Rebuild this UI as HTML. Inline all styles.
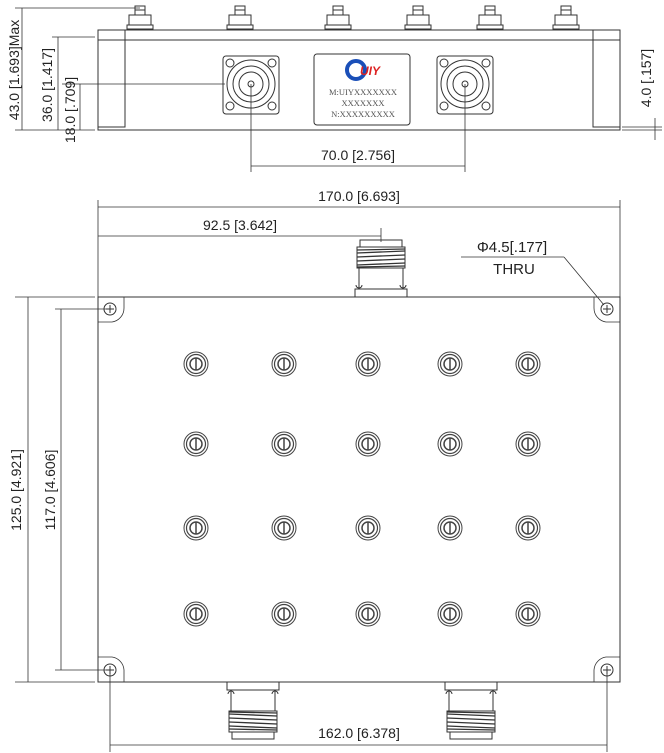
<!DOCTYPE html>
<html><head><meta charset="utf-8"><style>
html,body{margin:0;padding:0;background:#fff;}
svg{display:block;}
text{font-family:"Liberation Sans",sans-serif;fill:#222;}
</style></head><body>
<svg width="664" height="753" viewBox="0 0 664 753" xmlns="http://www.w3.org/2000/svg">
<defs>
<g id="stud" stroke="#333" stroke-width="1" fill="#fff">
<rect x="-5" y="-24" width="10" height="9"/>
<rect x="-11" y="-15" width="22" height="10"/>
<line x1="-5" y1="-20" x2="5" y2="-20"/>
<rect x="-13" y="-5" width="26" height="4"/>
</g>
<g id="knob" fill="none" stroke="#444">
<circle r="12" stroke-width="1"/>
<circle r="9.5" stroke-width="1.2"/>
<circle r="6" stroke-width="1.5"/>
<line x1="0" y1="-6" x2="0" y2="6" stroke-width="1.5"/>
</g>
<g id="hole" fill="none" stroke="#333" stroke-width="1">
<circle r="6"/>
<line x1="-4" y1="0" x2="4" y2="0"/><line x1="0" y1="-4" x2="0" y2="4"/>
</g>
<g id="nconn" fill="#fff" stroke="#333" stroke-width="1">
<rect x="-28" y="-28" width="56" height="58" rx="3"/>
<circle r="24"/><circle r="18"/><circle r="12"/><circle r="3"/>
<circle cx="-21" cy="-21" r="4"/><circle cx="21" cy="-21" r="4"/>
<circle cx="-21" cy="22" r="4"/><circle cx="21" cy="22" r="4"/>
</g>
<g id="thread" stroke="#333" stroke-width="1" fill="#fff">
<rect x="-26" y="0" width="52" height="8"/>
<path d="M-22 8 V30 M22 8 V30" fill="none"/>
<path d="M-25 12 a3 3 0 0 1 6 0 M19 12 a3 3 0 0 1 6 0" fill="none"/>
<rect x="-21" y="48" width="42" height="9"/>
<rect x="-24" y="29" width="48" height="21"/>
<path d="M-24 32 L24 34 M-24 36 L24 38 M-24 40 L24 42 M-24 44 L24 46 M-24 47 L24 48 M-24 30 L24 31" fill="none" stroke-width="1.3"/>
</g>
</defs>

<!-- ===== TOP VIEW ===== -->
<g stroke="#333" stroke-width="1" fill="none">
<rect x="98" y="30" width="522" height="100" fill="#fff"/>
<line x1="98" y1="40" x2="620" y2="40"/>
<polyline points="125,30 125,127 98,127"/>
<polyline points="593,30 593,127 620,127"/>
</g>
<use href="#stud" x="140" y="30"/>
<use href="#stud" x="240" y="30"/>
<use href="#stud" x="338" y="30"/>
<use href="#stud" x="418" y="30"/>
<use href="#stud" x="490" y="30"/>
<use href="#stud" x="566" y="30"/>
<use href="#nconn" x="251" y="84"/>
<use href="#nconn" x="465" y="84"/>
<rect x="314" y="54" width="96" height="71" rx="3" fill="#fff" stroke="#333"/>
<circle cx="356" cy="70" r="9" fill="none" stroke="#1a4fb8" stroke-width="4"/>
<text x="360" y="75" font-size="12" font-weight="bold" font-style="italic" style="fill:#d22">UIY</text>
<g font-size="8.5" text-anchor="middle">
<text x="363" y="95" style="font-family:'Liberation Serif',serif;fill:#555">M:UIYXXXXXXX</text>
<text x="363" y="106" style="font-family:'Liberation Serif',serif;fill:#555">XXXXXXX</text>
<text x="363" y="117" style="font-family:'Liberation Serif',serif;fill:#555">N:XXXXXXXXX</text>
</g>
<!-- top-view dims -->
<g stroke="#333" stroke-width="0.8" fill="none">
<line x1="15" y1="8" x2="140" y2="8"/>
<line x1="22" y1="8" x2="22" y2="130"/>
<line x1="15" y1="130" x2="95" y2="130"/>
<line x1="52" y1="37" x2="95" y2="37"/>
<line x1="58" y1="37" x2="58" y2="130"/>
<line x1="62" y1="84" x2="225" y2="84"/>
<line x1="80" y1="84" x2="80" y2="130"/>
<line x1="251" y1="84" x2="251" y2="172"/>
<line x1="465" y1="84" x2="465" y2="172"/>
<line x1="251" y1="166" x2="465" y2="166"/>
<line x1="622" y1="127" x2="662" y2="127"/>
<line x1="622" y1="130" x2="662" y2="130"/>
<line x1="655" y1="118" x2="655" y2="140"/>
</g>
<text font-size="14" transform="translate(19,70) rotate(-90)" text-anchor="middle">43.0 [1.693]Max</text>
<text font-size="14" transform="translate(52,85) rotate(-90)" text-anchor="middle">36.0 [1.417]</text>
<text font-size="14" transform="translate(75,110) rotate(-90)" text-anchor="middle">18.0 [.709]</text>
<text font-size="14" x="358" y="160" text-anchor="middle">70.0 [2.756]</text>
<text font-size="14" transform="translate(651,78) rotate(-90)" text-anchor="middle">4.0 [.157]</text>

<!-- ===== BOTTOM VIEW ===== -->
<path d="M98 297 H620 V682 H98 Z" fill="#fff" stroke="#333" stroke-width="1"/>
<g stroke="#333" stroke-width="0.8" fill="none">
<path d="M98 322 H112 A14 14 0 0 0 124 308 V297"/>
<path d="M620 322 H606 A14 14 0 0 1 594 308 V297"/>
<path d="M98 657 H112 A14 14 0 0 1 124 670 V682"/>
<path d="M620 657 H606 A14 14 0 0 0 594 670 V682"/>
</g>
<use href="#hole" x="110" y="309"/>
<use href="#hole" x="607" y="309"/>
<use href="#hole" x="110" y="670"/>
<use href="#hole" x="607" y="670"/>
<g>
<use href="#knob" x="196" y="364"/><use href="#knob" x="284" y="364"/><use href="#knob" x="368" y="364"/><use href="#knob" x="450" y="364"/><use href="#knob" x="528" y="364"/>
<use href="#knob" x="196" y="444"/><use href="#knob" x="284" y="444"/><use href="#knob" x="368" y="444"/><use href="#knob" x="450" y="444"/><use href="#knob" x="528" y="444"/>
<use href="#knob" x="196" y="528"/><use href="#knob" x="284" y="528"/><use href="#knob" x="368" y="528"/><use href="#knob" x="450" y="528"/><use href="#knob" x="528" y="528"/>
<use href="#knob" x="196" y="614"/><use href="#knob" x="284" y="614"/><use href="#knob" x="368" y="614"/><use href="#knob" x="450" y="614"/><use href="#knob" x="528" y="614"/>
</g>
<g transform="translate(381,297) scale(1,-1)">
<use href="#thread" x="0" y="0"/>
</g>
<use href="#thread" x="253" y="682"/>
<use href="#thread" x="471" y="682"/>

<!-- bottom-view dims -->
<g stroke="#333" stroke-width="0.8" fill="none">
<line x1="98" y1="200" x2="98" y2="297"/>
<line x1="620" y1="200" x2="620" y2="297"/>
<line x1="98" y1="207" x2="620" y2="207"/>
<line x1="98" y1="236" x2="381" y2="236"/>
<line x1="381" y1="228" x2="381" y2="242"/>
<line x1="461" y1="257" x2="564" y2="257"/>
<line x1="564" y1="257" x2="604" y2="305"/>
<line x1="15" y1="297" x2="95" y2="297"/>
<line x1="15" y1="682" x2="95" y2="682"/>
<line x1="28" y1="297" x2="28" y2="682"/>
<line x1="55" y1="309" x2="110" y2="309"/>
<line x1="55" y1="670" x2="110" y2="670"/>
<line x1="61" y1="309" x2="61" y2="670"/>
<line x1="110" y1="670" x2="110" y2="752"/>
<line x1="607" y1="670" x2="607" y2="752"/>
<line x1="110" y1="745" x2="607" y2="745"/>
</g>
<text font-size="14" x="359" y="201" text-anchor="middle">170.0 [6.693]</text>
<text font-size="14" x="240" y="230" text-anchor="middle">92.5 [3.642]</text>
<text font-size="15" x="512" y="252" text-anchor="middle">Φ4.5[.177]</text>
<text font-size="15" x="514" y="274" text-anchor="middle">THRU</text>
<text font-size="14" transform="translate(21,490) rotate(-90)" text-anchor="middle">125.0 [4.921]</text>
<text font-size="14" transform="translate(55,490) rotate(-90)" text-anchor="middle">117.0 [4.606]</text>
<text font-size="14" x="359" y="738" text-anchor="middle">162.0 [6.378]</text>
</svg>
</body></html>
